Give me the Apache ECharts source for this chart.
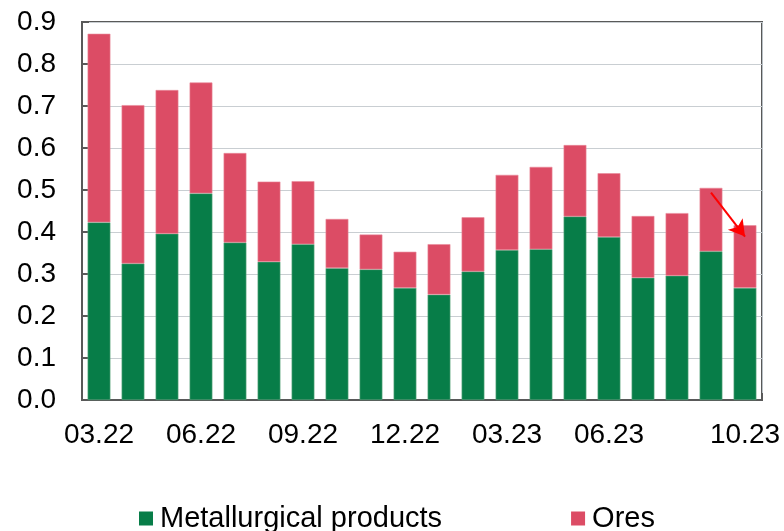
<!DOCTYPE html>
<html>
<head>
<meta charset="utf-8">
<script src="https://cdn.jsdelivr.net/npm/echarts@6/dist/echarts.min.js"></script>
<style>html,body{margin:0;padding:0;background:#fff}#c{width:784px;height:531px}</style>
</head>
<body>
<div id="c"></div>
<script>
const categories = ['03.22','04.22','05.22','06.22','07.22','08.22','09.22','10.22','11.22','12.22','01.23','02.23','03.23','04.23','05.23','06.23','07.23','08.23','09.23','10.23'];
const tickLabels = ['03.22','06.22','09.22','12.22','03.23','06.23','10.23'];
const metallurgical = [0.423,0.325,0.396,0.492,0.375,0.329,0.371,0.314,0.311,0.267,0.251,0.306,0.357,0.359,0.437,0.388,0.291,0.296,0.354,0.267];
const totals = [0.872,0.702,0.738,0.756,0.588,0.520,0.521,0.431,0.394,0.353,0.371,0.435,0.536,0.555,0.607,0.540,0.438,0.445,0.505,0.416];
const ores = totals.map((t, i) => +(t - metallurgical[i]).toFixed(3));
const arrowFrom = ['09.23', 0.494];
const arrowTo = ['10.23', 0.389];

const chart = echarts.init(document.getElementById('c'), null, {renderer: 'canvas'});
const FONT = '"Liberation Sans", Arial, sans-serif';
chart.setOption({
  animation: false,
  grid: {left: 82, right: 22, top: 22, bottom: 131, show: true, borderColor: '#595959', borderWidth: 2, backgroundColor: 'transparent'},
  legend: {
    top: 504, left: 139, padding: 0, itemWidth: 14, itemHeight: 14, itemGap: 129,
    icon: 'rect',
    itemStyle: {borderWidth: 0},
    textStyle: {fontFamily: FONT, fontSize: 29, color: '#000', padding: [0,0,0,2]},
    data: ['Metallurgical products', 'Ores']
  },
  xAxis: {
    type: 'category', data: categories,
    axisLine: {lineStyle: {color: '#595959', width: 2}},
    axisTick: {show: true, inside: true, length: 7, lineStyle: {color: '#595959', width: 2}, interval: (i) => i === 10},
    splitLine: {show: true, interval: (i) => i === 10, lineStyle: {color: '#B9C0C5', width: 1}},
    axisLabel: {interval: 0, margin: 21, fontFamily: FONT, fontSize: 28, color: '#000',
      formatter: (v) => tickLabels.includes(v) ? v : ''}
  },
  yAxis: {
    type: 'value', min: 0, max: 0.9, interval: 0.1,
    axisLine: {show: true, lineStyle: {color: '#595959', width: 2}},
    axisTick: {show: true, inside: true, length: 7, lineStyle: {color: '#595959', width: 2}},
    splitLine: {lineStyle: {color: '#C9CED2', width: 1}},
    axisLabel: {margin: 26, fontFamily: FONT, fontSize: 28, color: '#000', formatter: (v) => v.toFixed(1)}
  },
  series: [
    {name: 'Metallurgical products', type: 'bar', stack: 'a', data: metallurgical, barCategoryGap: '33%',
      itemStyle: {color: '#077D48', borderColor: '#5FA882', borderWidth: 0.6}},
    {name: 'Ores', type: 'bar', stack: 'a', data: ores, barCategoryGap: '33%',
      itemStyle: {color: '#DC4C65', borderColor: '#E98A9A', borderWidth: 0.6},
      markLine: {
        silent: true, symbol: ['none', 'arrow'], symbolSize: [14, 16],
        label: {show: false},
        lineStyle: {color: '#FF0000', width: 2, type: 'solid'},
        data: [[{coord: arrowFrom}, {coord: arrowTo}]]
      }}
  ]
});
</script>
</body>
</html>
